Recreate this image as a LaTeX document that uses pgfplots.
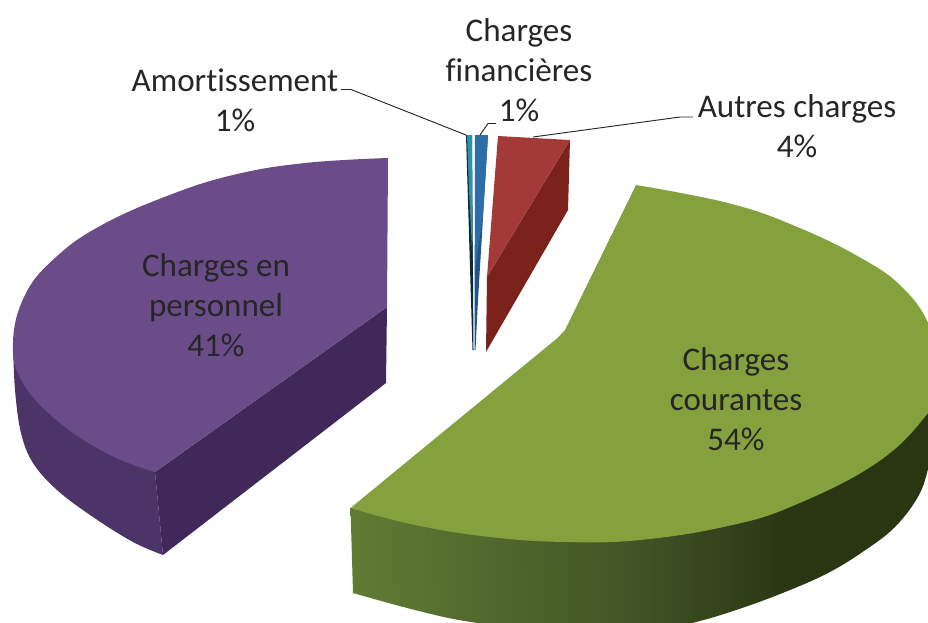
\documentclass[border=0pt]{standalone}
\usepackage{fontspec}
\setmainfont[Ligatures=NoCommon]{Carlito}
\usepackage{pgfplots}
\pgfplotsset{compat=1.18}
\definecolor{purpT}{HTML}{6A4C88}
\definecolor{purpR}{HTML}{40285A}
\definecolor{purpA}{HTML}{4C3469}
\definecolor{greenT}{HTML}{84A13D}
\definecolor{greenA}{HTML}{607C33}
\definecolor{greenB}{HTML}{405426}
\definecolor{greenC}{HTML}{2A3512}
\definecolor{redT}{HTML}{A33A38}
\definecolor{redD}{HTML}{7C221C}
\definecolor{blueT}{HTML}{2F6DA8}
\definecolor{blueD}{HTML}{1E5488}
\definecolor{tealT}{HTML}{2E93A8}
\definecolor{tealD}{HTML}{0C2A36}
\definecolor{txt}{HTML}{262626}
\pgfdeclarehorizontalshading{greenside}{100bp}{color(0bp)=(greenA); color(25bp)=(greenA); color(49bp)=(greenB); color(62bp)=(greenC); color(100bp)=(greenC)}
\tikzset{lbl/.style={font=\fontsize{24.8}{30}\selectfont, text=txt, align=center, inner sep=0pt}}
\begin{document}
\begin{tikzpicture}
\path[use as bounding box] (0,0) rectangle (696pt,466.5pt);
\begin{axis}[
  at={(0,0)}, anchor=south west,
  scale only axis, width=696pt, height=466.5pt,
  xmin=0, xmax=928, ymin=0, ymax=622, y dir=reverse,
  hide axis, clip=true,
]
% purple side
\addplot[smooth, tension=0.6, fill=purpA, draw=none] coordinates {
(13,343)(15,390)(21,433)(33,463)(57,490)(93,517)(133,542)(163,555)};
\addplot[fill=purpA, draw=none] coordinates {(13,343)(155,472)(163,555)(60,440)(13,343)};
\addplot[fill=purpR, draw=none] coordinates {(155,472)(387,307)(386,383)(163,555)(155,472)};
% purple top
\addplot[smooth, tension=0.7, fill=purpT, draw=none] coordinates {
(388,158)(305,163)(233,175)(167,196)(100,226)(55,258)(25,295)(13,343)(23,383)(60,423)(110,455)(155,472)};
\addplot[fill=purpT, draw=none] coordinates {(388,158)(260,310)(155,472)(387,307)(388,158)};
% green side
\addplot[smooth, tension=0.6, shade, shading=greenside, draw=none] coordinates {
(353,593)(415,610)(471,622)(565,633)(640,633)(696,622)(745,607)(790,590)(828,573)(861,553)(895,527)(920,493)(932,455)(945,420)};
\addplot[shade, shading=greenside, draw=none] coordinates {
(350.5,508)(650,500)(945,385)(945,422)(600,560)(353,593)(350.5,508)};
% green top
\addplot[smooth, tension=0.7, fill=greenT, draw=none] coordinates {
(636,185)(728,203)(795,226)(861,258)(903,288)(930,327)(945,380)};
\addplot[smooth, tension=0.7, fill=greenT, draw=none] coordinates {
(945,380)(928,413)(878,462)(795,505)(728,526)(640,540)(565,542)(490,537)(415,525)(350.5,508)};
\addplot[fill=greenT, draw=none] coordinates {
(636,185)(790,270)(945,380)(650,470)(350.5,508)(557.5,338)(565,330)(636,185)};
% red
\addplot[fill=redD, draw=none] coordinates {(570,140)(568,210)(486,352)(487,277)(570,140)};
\addplot[fill=redT, draw=none] coordinates {(498,136)(570,140)(487,277)(498,136)};
% blue
\addplot[fill=blueD, draw=none] coordinates {(475,135)(488,135)(478,300)(475.5,350)(474.5,350)(475,135)};
\addplot[fill=blueT, draw=none] coordinates {(475,135)(488,135)(483,215)(475,270)(475,135)};
% teal
\addplot[fill=tealD, draw=none] coordinates {(466,135)(472,135)(473.5,350)(472.5,350)(466,135)};
\addplot[fill=tealT, draw=none] coordinates {(467,135)(472,135)(472.5,260)(469,190)(467,135)};
% leader lines
\addplot[draw=txt, line width=0.7pt] coordinates {(341,89.5)(351,89.5)(466,135)};
\addplot[draw=txt, line width=0.7pt] coordinates {(480,135)(488,123.5)(496,123.5)};
\addplot[draw=txt, line width=0.7pt] coordinates {(533,137)(680,117)(693,117)};
\node[lbl] at (axis cs:235,100) {Amortissement\\1\%};
\node[lbl] at (axis cs:519,70) {Charges\\financières\\1\%};
\node[lbl] at (axis cs:797,126) {Autres charges\\4\%};
\node[lbl] at (axis cs:216,305) {Charges en\\personnel\\41\%};
\node[lbl] at (axis cs:736,399) {Charges\\courantes\\54\%};
\end{axis}
\end{tikzpicture}
\end{document}
